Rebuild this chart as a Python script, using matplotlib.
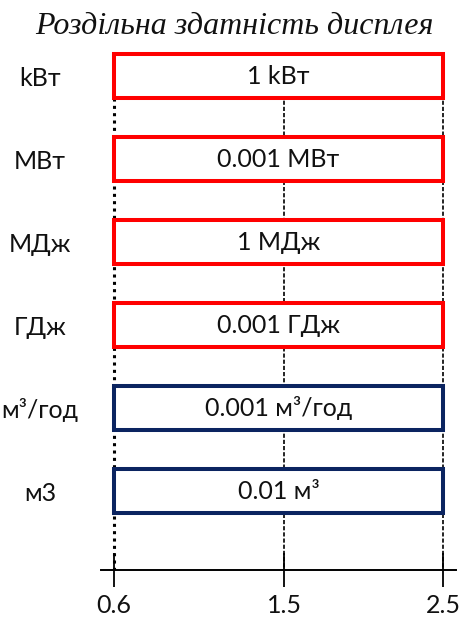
import numpy as np
import matplotlib
matplotlib.use("Agg")
import matplotlib.pyplot as plt

# ---- data ----
categories = ["kВт", "МВт", "МДж", "ГДж", "м³/год", "м3"]
bar_texts = ["1 kВт", "0.001 МВт", "1 МДж", "0.001 ГДж", "0.001 м³/год", "0.01 м³"]
range_start = [0.6, 0.6, 0.6, 0.6, 0.6, 0.6]
range_end = [2.5, 2.5, 2.5, 2.5, 2.5, 2.5]
edge_colors = ["#FF0000", "#FF0000", "#FF0000", "#FF0000", "#0B2460", "#0B2460"]
x_ticks = [0.6, 1.5, 2.5]
x_tick_labels = ["0.6", "1.5", "2.5"]
title = "Роздільна здатність дисплея"

W, H = 465, 619
fig = plt.figure(figsize=(W / 100, H / 100), dpi=100)

# axes in pixel terms
ax_left, ax_right = 101, 456
ax_top, ax_bottom = 35, 570
ax = fig.add_axes([ax_left / W, 1 - ax_bottom / H,
                   (ax_right - ax_left) / W, (ax_bottom - ax_top) / H])

# non-uniform schematic x scale (piecewise linear)
xs_anchor = np.array([-2.0, 0.6, 1.5, 2.5, 6.0])
ps_anchor = np.array([114 - 2.6 * 189, 114, 284, 443, 443 + 3.5 * 159], dtype=float)
fwd = lambda x: np.interp(x, xs_anchor, ps_anchor)
inv = lambda p: np.interp(p, ps_anchor, xs_anchor)
ax.set_xscale("function", functions=(fwd, inv))
ax.set_xlim(inv(ax_left), inv(ax_right))

pos = np.arange(len(categories))
ax.set_ylim(5.95, -0.5)

font_main = ["Lato", "Noto Sans", "DejaVu Sans"]

# dotted guide lines
for i, xv in enumerate(x_ticks):
    if i == 0:
        ax.vlines(xv, 0, 5.95, colors="black", linestyles=(0, (1.0, 1.4)), lw=2.2, zorder=1)
    else:
        ax.vlines(xv, 0, 5.95, colors="black", linestyles=(0, (2.5, 1.2)), lw=1.2, zorder=1)

widths = [e - s for s, e in zip(range_start, range_end)]
bars = ax.barh(pos, widths, left=range_start, height=0.53, color="white",
               edgecolor=edge_colors, linewidth=2.9, zorder=3)
labels = ax.bar_label(bars, labels=bar_texts, label_type="center",
                      fontsize=18, color="#111111", family=font_main)
for t in labels:
    t.set_zorder(4)

ax.set_yticks(pos)
ax.set_yticklabels(categories, family=font_main, fontsize=18, color="#111111")
ax.tick_params(axis="y", length=0, pad=44)
for t in ax.get_yticklabels():
    t.set_ha("center")

ax.set_xticks(x_ticks)
ax.set_xticklabels(x_tick_labels, family=font_main, fontsize=18, color="#111111")
ax.minorticks_off()
ax.tick_params(axis="x", which="major", direction="inout", length=25, width=1.3, pad=5)

for s in ["left", "right", "top"]:
    ax.spines[s].set_visible(False)
ax.spines["bottom"].set_linewidth(1.4)
ax.patch.set_visible(False)

fig.text(0.505, 1 - 27 / H, title, ha="center", va="center",
         family="Liberation Serif", style="italic", fontsize=23, color="#111111")

fig.savefig("out.png", dpi=100)
